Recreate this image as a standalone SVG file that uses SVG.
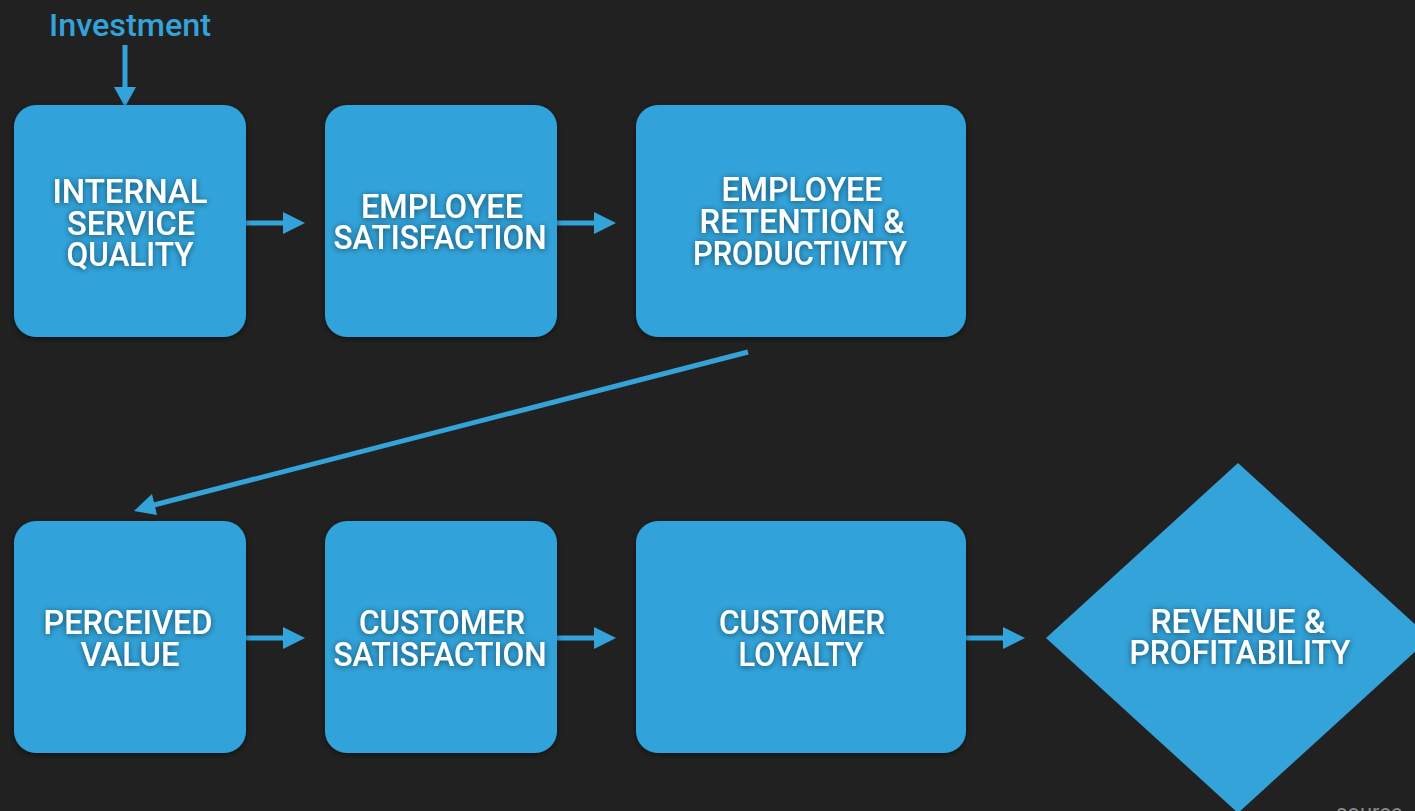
<svg xmlns="http://www.w3.org/2000/svg" width="1415" height="811" viewBox="0 0 1415 811">
  <defs>
    <style>
      .box { fill: #33a3da; }
      .lbl { font-family: Roboto, "Liberation Sans", sans-serif; font-weight: 500; font-size: 33px; fill: #ffffff; text-anchor: middle; }
      .link { stroke: #33a3da; stroke-width: 5; fill: none; }
      .head { fill: #33a3da; }
    </style>
    <filter id="glow" x="-20%" y="-40%" width="140%" height="180%">
      <feDropShadow dx="0" dy="1" stdDeviation="3" flood-color="#000000" flood-opacity="0.55"/>
    </filter>
    <filter id="shade" x="-10%" y="-10%" width="120%" height="120%">
      <feDropShadow dx="0" dy="2" stdDeviation="3" flood-color="#000000" flood-opacity="0.45"/>
    </filter>
  </defs>

  <rect width="1415" height="811" fill="#212121"/>

  <!-- input label -->
  <text x="49" y="36" font-family="Roboto, 'Liberation Sans', sans-serif" font-weight="500" font-size="31" fill="#33a3da" textLength="162" lengthAdjust="spacingAndGlyphs">Investment</text>

  <!-- connectors -->
  <g id="connectors">
    <line class="link" x1="125" y1="45" x2="125" y2="90"/>
    <polygon class="head" points="114,87 136,87 125,107"/>

    <line class="link" x1="246" y1="223" x2="286" y2="223"/>
    <polygon class="head" points="283,212 305,223 283,234"/>
    <line class="link" x1="557" y1="223" x2="597" y2="223"/>
    <polygon class="head" points="594,212 616,223 594,234"/>

    <line class="link" x1="748" y1="352" x2="150" y2="506"/>
    <polygon class="head" points="134,511 152,494 157,515"/>

    <line class="link" x1="246" y1="638" x2="286" y2="638"/>
    <polygon class="head" points="283,627 305,638 283,649"/>
    <line class="link" x1="557" y1="638" x2="597" y2="638"/>
    <polygon class="head" points="594,627 616,638 594,649"/>
    <line class="link" x1="966" y1="638" x2="1006" y2="638"/>
    <polygon class="head" points="1003,627 1025,638 1003,649"/>
  </g>

  <g id="internal-service-quality">
    <rect class="box" x="14" y="105" width="232" height="232" rx="22" filter="url(#shade)"/>
    <g filter="url(#glow)">
      <text class="lbl" x="130" y="203" textLength="155" lengthAdjust="spacingAndGlyphs">INTERNAL</text>
      <text class="lbl" x="131" y="235" textLength="128" lengthAdjust="spacingAndGlyphs">SERVICE</text>
      <text class="lbl" x="130" y="266" textLength="127" lengthAdjust="spacingAndGlyphs">QUALITY</text>
    </g>
  </g>

  <g id="employee-satisfaction">
    <rect class="box" x="325" y="105" width="232" height="232" rx="22" filter="url(#shade)"/>
    <g filter="url(#glow)">
      <text class="lbl" x="442" y="218" textLength="162" lengthAdjust="spacingAndGlyphs">EMPLOYEE</text>
      <text class="lbl" x="440" y="249" textLength="213" lengthAdjust="spacingAndGlyphs">SATISFACTION</text>
    </g>
  </g>

  <g id="employee-retention-productivity">
    <rect class="box" x="636" y="105" width="330" height="232" rx="22" filter="url(#shade)"/>
    <g filter="url(#glow)">
      <text class="lbl" x="802" y="201" textLength="161" lengthAdjust="spacingAndGlyphs">EMPLOYEE</text>
      <text class="lbl" x="802" y="233" textLength="205" lengthAdjust="spacingAndGlyphs">RETENTION &amp;</text>
      <text class="lbl" x="800" y="265" textLength="214" lengthAdjust="spacingAndGlyphs">PRODUCTIVITY</text>
    </g>
  </g>

  <g id="perceived-value">
    <rect class="box" x="14" y="521" width="232" height="232" rx="22" filter="url(#shade)"/>
    <g filter="url(#glow)">
      <text class="lbl" x="128" y="634" textLength="169" lengthAdjust="spacingAndGlyphs">PERCEIVED</text>
      <text class="lbl" x="130" y="666" textLength="99" lengthAdjust="spacingAndGlyphs">VALUE</text>
    </g>
  </g>

  <g id="customer-satisfaction">
    <rect class="box" x="325" y="521" width="232" height="232" rx="22" filter="url(#shade)"/>
    <g filter="url(#glow)">
      <text class="lbl" x="442" y="634" textLength="166" lengthAdjust="spacingAndGlyphs">CUSTOMER</text>
      <text class="lbl" x="440" y="666" textLength="213" lengthAdjust="spacingAndGlyphs">SATISFACTION</text>
    </g>
  </g>

  <g id="customer-loyalty">
    <rect class="box" x="636" y="521" width="330" height="232" rx="22" filter="url(#shade)"/>
    <g filter="url(#glow)">
      <text class="lbl" x="802" y="634" textLength="166" lengthAdjust="spacingAndGlyphs">CUSTOMER</text>
      <text class="lbl" x="801" y="666" textLength="125" lengthAdjust="spacingAndGlyphs">LOYALTY</text>
    </g>
  </g>

  <g id="revenue-profitability">
    <polygon class="box" points="1238,463 1430,638 1238,813 1046,638"/>
    <g filter="url(#glow)">
      <text class="lbl" x="1238" y="633" textLength="175" lengthAdjust="spacingAndGlyphs">REVENUE &amp;</text>
      <text class="lbl" x="1240" y="664" textLength="221" lengthAdjust="spacingAndGlyphs">PROFITABILITY</text>
    </g>
  </g>

  <text x="1336" y="820" font-family="Roboto, 'Liberation Sans', sans-serif" font-size="22" fill="#8a8a8a">source</text>
</svg>
